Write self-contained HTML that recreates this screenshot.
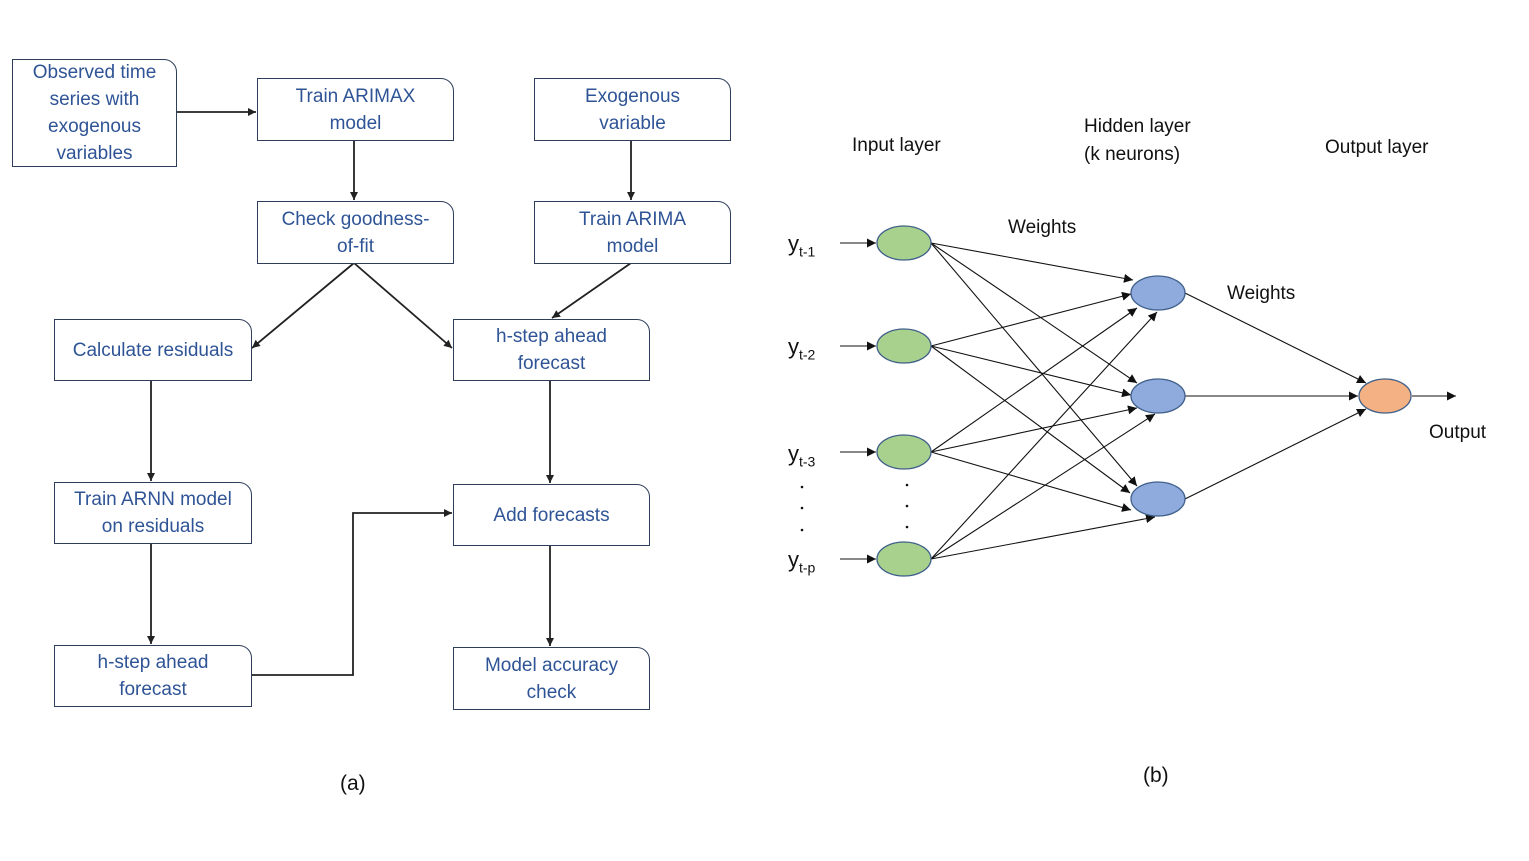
<!DOCTYPE html>
<html><head><meta charset="utf-8"><style>
body{margin:0;background:#fff;width:1529px;height:861px;position:relative;overflow:hidden;font-family:"Liberation Sans",sans-serif}
.b{position:absolute;box-sizing:border-box;border:1.3px solid #2d3d5a;border-top-right-radius:13px;background:#fff;color:#2f5496;font-size:19px;line-height:27px;text-align:center;display:flex;align-items:center;justify-content:center}
.t{position:absolute;font-size:19px;color:#111;white-space:nowrap}
svg{position:absolute;left:0;top:0}
</style></head><body>
<svg width="1529" height="861">
<defs>
<marker id="a" viewBox="0 0 10 10" refX="10" refY="5" markerWidth="8" markerHeight="8" orient="auto" markerUnits="userSpaceOnUse"><path d="M0,0L10,5L0,10z" fill="#222"/></marker>
<marker id="m" viewBox="0 0 10 10" refX="10" refY="5" markerWidth="9" markerHeight="9" orient="auto" markerUnits="userSpaceOnUse"><path d="M0,0L10,5L0,10z" fill="#111"/></marker>
</defs>
<g stroke="#222" stroke-width="1.8" fill="none" marker-end="url(#a)">
<line x1="176" y1="112" x2="256" y2="112"/>
<line x1="354" y1="140" x2="354" y2="200"/>
<line x1="631" y1="140" x2="631" y2="200"/>
<line x1="354" y1="263" x2="252" y2="348"/>
<line x1="354" y1="263" x2="452" y2="348"/>
<line x1="631" y1="263" x2="552" y2="318"/>
<line x1="151" y1="380" x2="151" y2="481"/>
<line x1="550" y1="380" x2="550" y2="483"/>
<line x1="151" y1="543" x2="151" y2="644"/>
<polyline points="251,675 353,675 353,513 452,513"/>
<line x1="550" y1="545" x2="550" y2="646"/>
</g>
<g stroke="#111" stroke-width="1.1" marker-end="url(#m)">
<line x1="840" y1="243" x2="876" y2="243"/>
<line x1="840" y1="346" x2="876" y2="346"/>
<line x1="840" y1="452" x2="876" y2="452"/>
<line x1="840" y1="559" x2="876" y2="559"/>
<line x1="931" y1="243" x2="1133" y2="280"/>
<line x1="931" y1="346" x2="1131" y2="294"/>
<line x1="931" y1="452" x2="1137" y2="308"/>
<line x1="931" y1="559" x2="1157" y2="312"/>
<line x1="931" y1="243" x2="1137" y2="383"/>
<line x1="931" y1="346" x2="1131" y2="395"/>
<line x1="931" y1="452" x2="1137" y2="408"/>
<line x1="931" y1="559" x2="1155" y2="414"/>
<line x1="931" y1="243" x2="1137" y2="486"/>
<line x1="931" y1="346" x2="1130" y2="493"/>
<line x1="931" y1="452" x2="1131" y2="510"/>
<line x1="931" y1="559" x2="1155" y2="517"/>
<line x1="1185" y1="293" x2="1366" y2="383"/>
<line x1="1185" y1="396" x2="1358" y2="396"/>
<line x1="1185" y1="499" x2="1366" y2="409"/>
<line x1="1412" y1="396" x2="1456" y2="396"/>
</g>
<g stroke="#3f5f8a" stroke-width="1.3">
<ellipse cx="904" cy="243" rx="27" ry="17" fill="#a9d18e"/>
<ellipse cx="904" cy="346" rx="27" ry="17" fill="#a9d18e"/>
<ellipse cx="904" cy="452" rx="27" ry="17" fill="#a9d18e"/>
<ellipse cx="904" cy="559" rx="27" ry="17" fill="#a9d18e"/>
<ellipse cx="1158" cy="293" rx="27" ry="17" fill="#8faadc"/>
<ellipse cx="1158" cy="396" rx="27" ry="17" fill="#8faadc"/>
<ellipse cx="1158" cy="499" rx="27" ry="17" fill="#8faadc"/>
<ellipse cx="1385" cy="396" rx="26" ry="17" fill="#f4b183"/>
</g>
<g fill="#111"><circle cx="802" cy="487" r="1.3"/><circle cx="802" cy="508" r="1.3"/><circle cx="802" cy="530" r="1.3"/>
<circle cx="907" cy="485" r="1.3"/><circle cx="907" cy="506" r="1.3"/><circle cx="907" cy="527" r="1.3"/></g>
</svg>
<div class="b" style="left:12px;top:59px;width:165px;height:108px">Observed time<br>series with<br>exogenous<br>variables</div>
<div class="b" style="left:257px;top:78px;width:197px;height:63px">Train ARIMAX<br>model</div>
<div class="b" style="left:534px;top:78px;width:197px;height:63px">Exogenous<br>variable</div>
<div class="b" style="left:257px;top:201px;width:197px;height:63px">Check goodness-<br>of-fit</div>
<div class="b" style="left:534px;top:201px;width:197px;height:63px">Train ARIMA<br>model</div>
<div class="b" style="left:54px;top:319px;width:198px;height:62px">Calculate residuals</div>
<div class="b" style="left:453px;top:319px;width:197px;height:62px">h-step ahead<br>forecast</div>
<div class="b" style="left:54px;top:482px;width:198px;height:62px">Train ARNN model<br>on residuals</div>
<div class="b" style="left:453px;top:484px;width:197px;height:62px">Add forecasts</div>
<div class="b" style="left:54px;top:645px;width:198px;height:62px">h-step ahead<br>forecast</div>
<div class="b" style="left:453px;top:647px;width:197px;height:63px">Model accuracy<br>check</div>
<div class="t" style="left:852px;top:135px">Input layer</div>
<div class="t" style="left:1084px;top:113px;line-height:28px">Hidden layer<br>(k neurons)</div>
<div class="t" style="left:1325px;top:137px">Output layer</div>
<div class="t" style="left:1008px;top:217px">Weights</div>
<div class="t" style="left:1227px;top:283px">Weights</div>
<div class="t" style="left:1429px;top:422px">Output</div>
<div class="t" style="left:340px;top:772px;font-size:21px">(a)</div>
<div class="t" style="left:1143px;top:764px;font-size:21px">(b)</div>
<div class="t" style="left:788px;top:231px;font-size:22px">y<sub style="font-size:14px">t-1</sub></div>
<div class="t" style="left:788px;top:334px;font-size:22px">y<sub style="font-size:14px">t-2</sub></div>
<div class="t" style="left:788px;top:441px;font-size:22px">y<sub style="font-size:14px">t-3</sub></div>
<div class="t" style="left:788px;top:547px;font-size:22px">y<sub style="font-size:14px">t-p</sub></div>
</body></html>
